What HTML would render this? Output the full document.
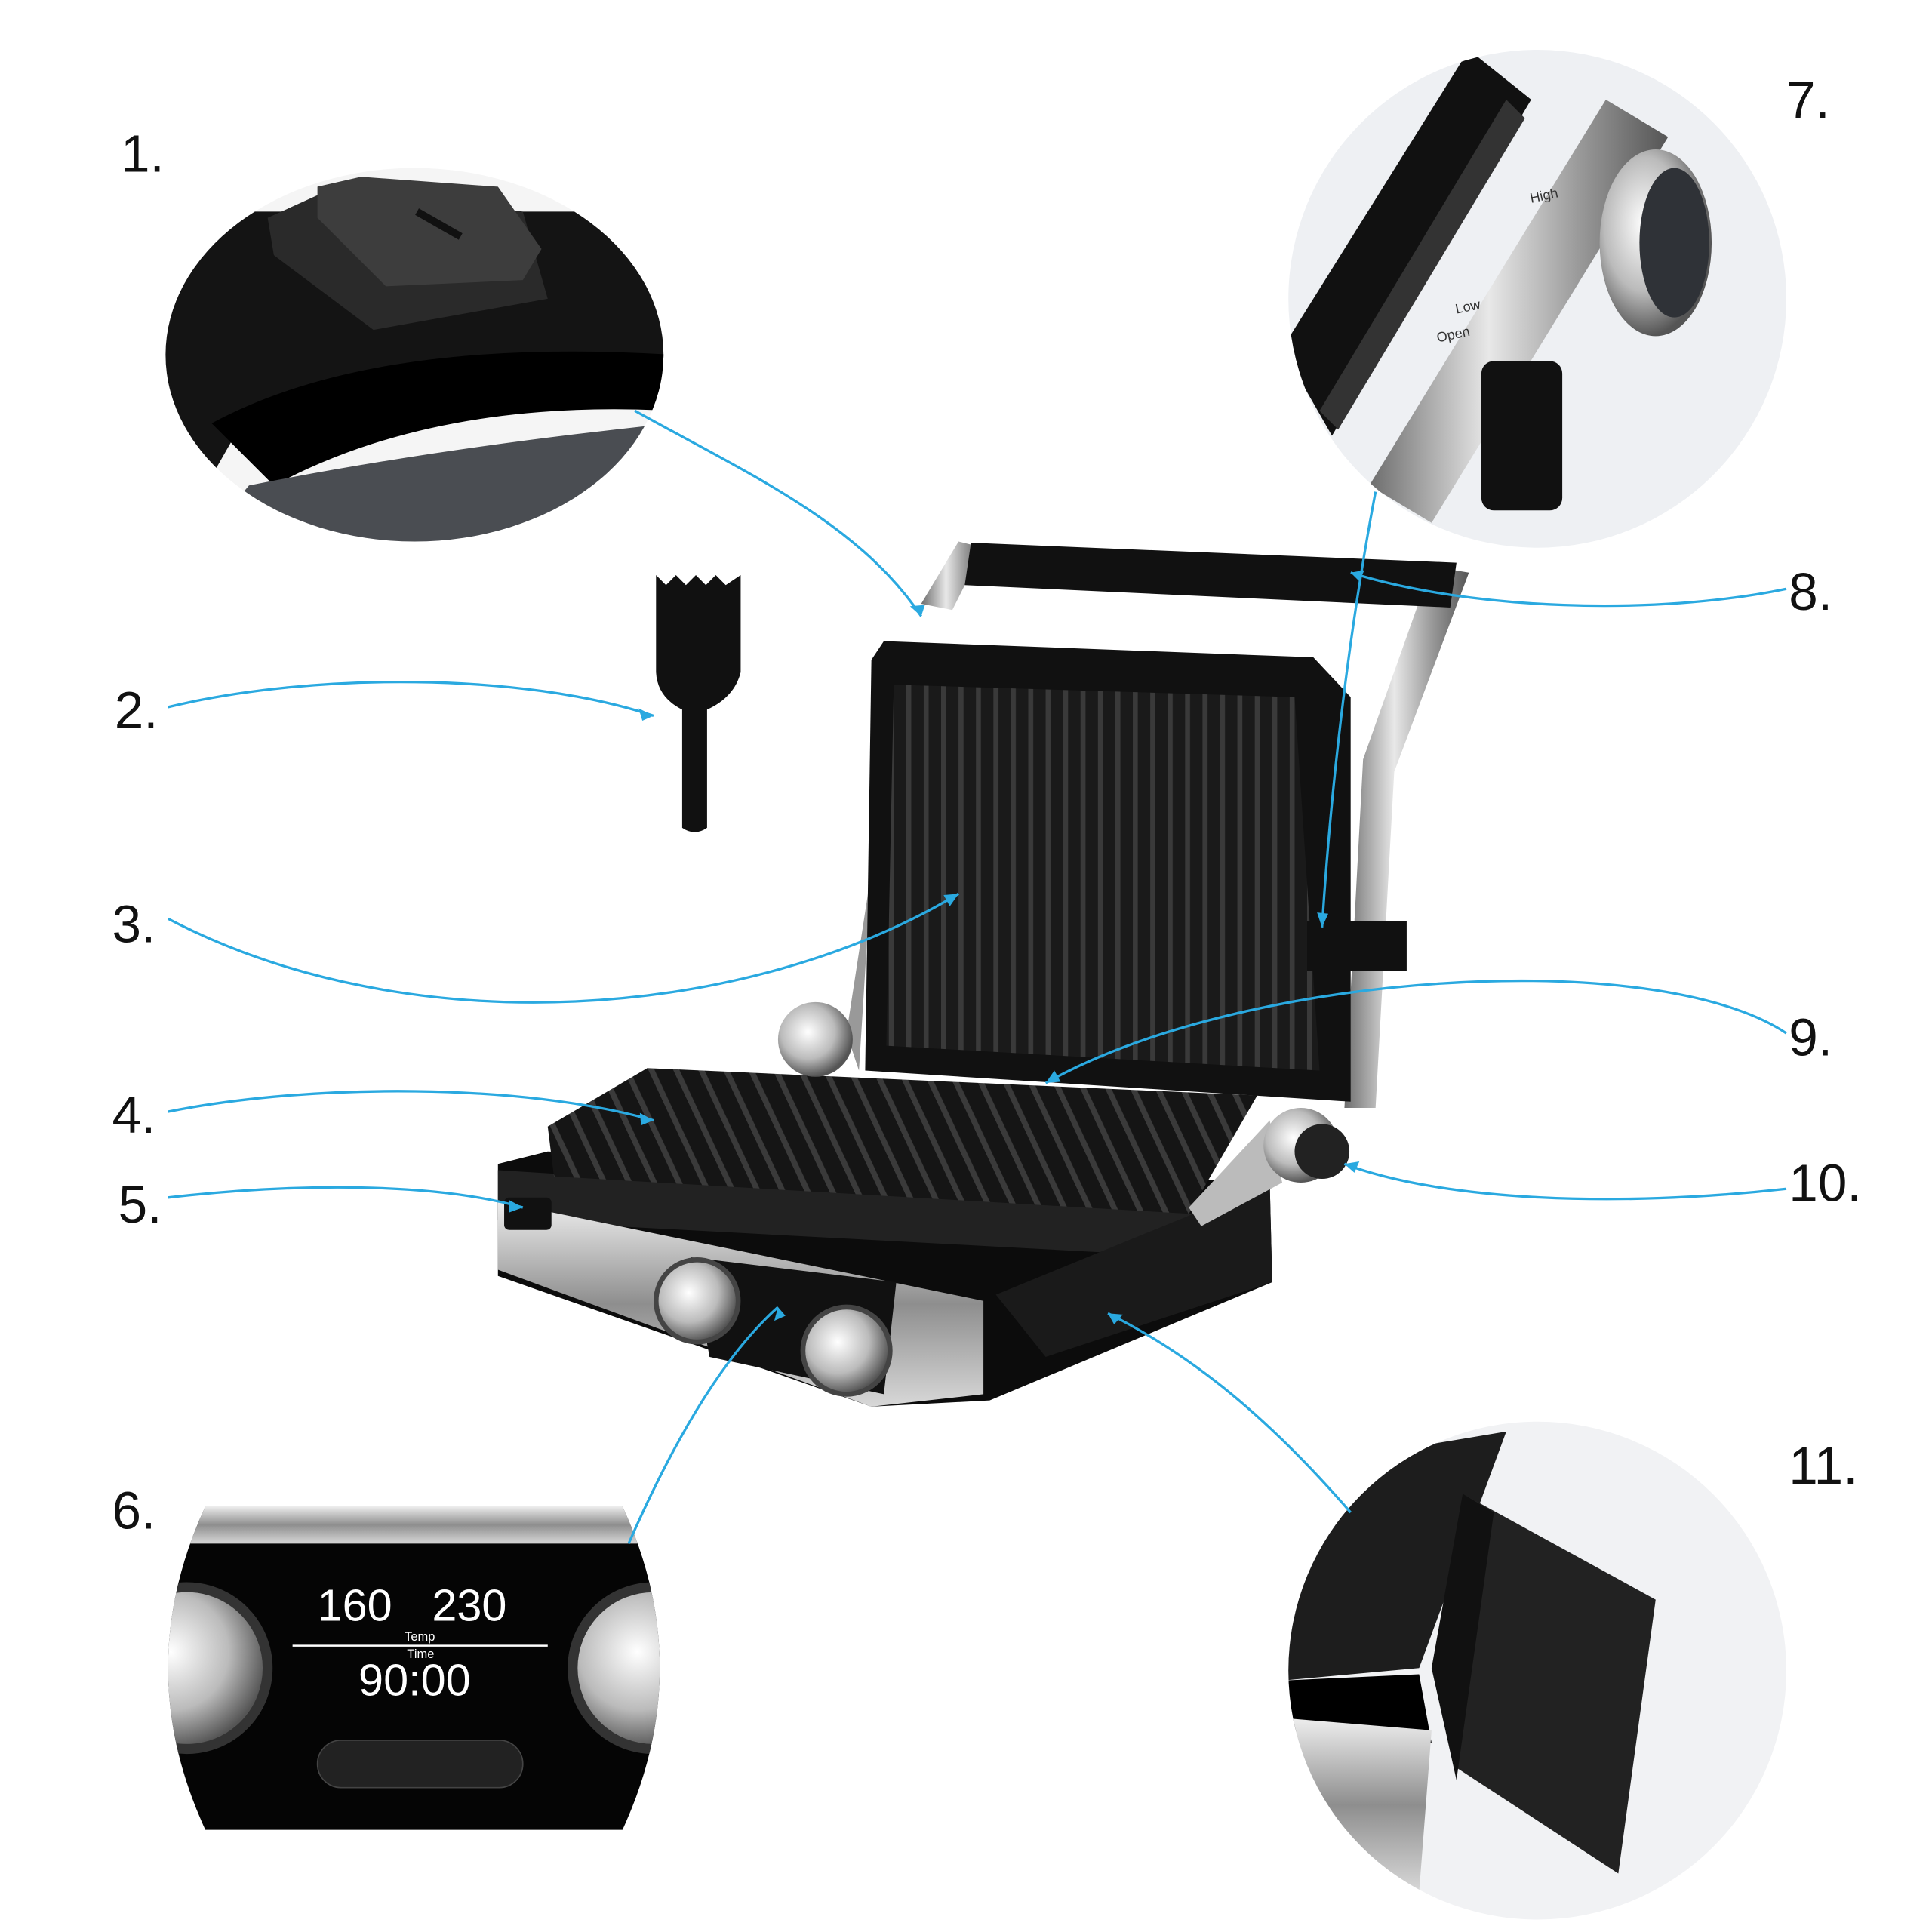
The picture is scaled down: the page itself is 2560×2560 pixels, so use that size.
<!DOCTYPE html>
<html><head><meta charset="utf-8"><style>
html,body{margin:0;padding:0;background:#fff;width:2560px;height:2560px;overflow:hidden}
svg{display:block}
text{font-family:"Liberation Sans",sans-serif}
</style></head><body>
<svg width="2560" height="2560" viewBox="0 0 1552 1552" xmlns="http://www.w3.org/2000/svg">
<defs>
<linearGradient id="steel" x1="0" y1="0" x2="1" y2="0">
<stop offset="0" stop-color="#6d6d6d"/><stop offset=".4" stop-color="#e8e8e8"/><stop offset=".7" stop-color="#9a9a9a"/><stop offset="1" stop-color="#555"/></linearGradient>
<linearGradient id="steelv" x1="0" y1="0" x2="0" y2="1">
<stop offset="0" stop-color="#eee"/><stop offset=".5" stop-color="#8e8e8e"/><stop offset="1" stop-color="#d8d8d8"/></linearGradient>
<radialGradient id="knob" cx=".4" cy=".4" r=".6"><stop offset="0" stop-color="#fff"/><stop offset=".6" stop-color="#bbb"/><stop offset="1" stop-color="#555"/></radialGradient>
<clipPath id="c1"><ellipse cx="333" cy="285" rx="200" ry="150"/></clipPath>
<clipPath id="c7"><circle cx="1235" cy="240" r="200"/></clipPath>
<clipPath id="c11"><circle cx="1235" cy="1342" r="200"/></clipPath>
<clipPath id="c6"><path d="M165 1210 L500 1210 Q560 1340 500 1470 L165 1470 Q105 1340 165 1210Z"/></clipPath>
<pattern id="ridge" width="14" height="10" patternUnits="userSpaceOnUse"><rect width="14" height="10" fill="#1a1a1a"/><rect width="4" height="10" fill="#3a3a3a"/></pattern>
<pattern id="ridgeh" width="20" height="14" patternUnits="userSpaceOnUse" patternTransform="skewX(25)"><rect width="20" height="14" fill="#151515"/><rect width="5" height="14" fill="#3a3a3a"/></pattern>
</defs>

<g clip-path="url(#c1)">
<rect x="100" y="100" width="450" height="350" fill="#f5f5f5"/>
<path d="M130 170 L540 170 L540 290 Q400 300 200 330 L160 400 L100 400Z" fill="#141414"/>
<path d="M170 340 Q300 270 540 285 L540 330 Q350 320 220 390Z" fill="#000"/>
<path d="M200 390 Q350 360 540 340 L540 450 L150 450Z" fill="#4a4d52"/>
<path d="M215 175 L270 150 L420 170 L440 240 L300 265 L220 205Z" fill="#2a2a2a"/>
<path d="M255 150 L290 142 L400 150 L435 200 L420 225 L310 230 L255 175Z" fill="#3d3d3d"/>
<line x1="335" y1="170" x2="370" y2="190" stroke="#111" stroke-width="6"/>
</g>

<g clip-path="url(#c7)">
<rect x="1030" y="30" width="420" height="420" fill="#eef0f3"/>
<path d="M1030 280 L1180 40 L1230 80 L1070 350Z" fill="#111"/>
<path d="M1060 330 L1210 80 L1225 95 L1075 345Z" fill="#333"/>
<path d="M1100 390 L1290 80 L1340 110 L1150 420Z" fill="url(#steel)"/>
<ellipse cx="1330" cy="195" rx="45" ry="75" fill="url(#knob)"/>
<ellipse cx="1345" cy="195" rx="28" ry="60" fill="#2f3237"/>
<rect x="1190" y="290" width="65" height="120" rx="10" fill="#111"/>
<text x="1230" y="163" font-size="11" fill="#333" transform="rotate(-12 1230 163)">High</text>
<text x="1170" y="252" font-size="11" fill="#333" transform="rotate(-12 1170 252)">Low</text>
<text x="1155" y="275" font-size="11" fill="#333" transform="rotate(-12 1155 275)">Open</text>
</g>

<g clip-path="url(#c11)">
<rect x="1030" y="1140" width="420" height="420" fill="#f1f2f4"/>
<path d="M1030 1290 L1090 1170 L1210 1150 L1140 1340 L1030 1350Z" fill="#1d1d1d"/>
<path d="M1030 1350 L1140 1345 L1150 1400 L1030 1390Z" fill="#000"/>
<path d="M1030 1380 L1150 1390 L1140 1520 L1030 1500Z" fill="url(#steelv)"/>
<path d="M1175 1200 L1330 1285 L1300 1505 L1170 1420Z" fill="#222"/>
<path d="M1150 1340 L1175 1200 L1200 1215 L1170 1430Z" fill="#111"/>
</g>

<g clip-path="url(#c6)">
<rect x="100" y="1205" width="470" height="270" fill="#050505"/>
<rect x="100" y="1210" width="470" height="30" fill="url(#steelv)"/>
<circle cx="150" cy="1340" r="65" fill="url(#knob)" stroke="#333" stroke-width="8"/>
<circle cx="525" cy="1340" r="65" fill="url(#knob)" stroke="#333" stroke-width="8"/>
<text x="255" y="1302" font-size="36" fill="#fff" font-family="Liberation Mono,monospace">160</text>
<text x="347" y="1302" font-size="36" fill="#fff" font-family="Liberation Mono,monospace">230</text>
<text x="325" y="1318" font-size="10" fill="#fff">Temp</text>
<line x1="235" y1="1322" x2="440" y2="1322" stroke="#fff" stroke-width="1.5"/>
<text x="327" y="1332" font-size="10" fill="#fff">Time</text>
<text x="288" y="1362" font-size="36" fill="#fff" font-family="Liberation Mono,monospace">90:00</text>
<rect x="255" y="1398" width="165" height="38" rx="19" fill="#222" stroke="#444"/>
</g>

<path d="M527 462 L535 470 L543 462 L551 470 L559 462 L567 470 L575 462 L583 470 L595 462 L595 540 Q590 560 568 570 L568 665 Q558 672 548 665 L548 570 Q528 560 527 540Z" fill="#111"/>

<path d="M740 485 L770 435 L790 440 L765 490Z" fill="url(#steel)"/>
<path d="M1150 455 L1180 460 L1120 620 L1105 890 L1080 890 L1095 610Z" fill="url(#steel)"/>
<path d="M680 830 L700 700 L690 860Z" fill="#999"/>
<path d="M780 436 L1170 452 L1165 488 L775 470Z" fill="#111"/>
<path d="M710 515 L1055 528 L1085 560 L1085 885 L695 860 L700 530Z" fill="#111"/>
<path d="M718 550 L1040 560 L1060 860 L712 840Z" fill="url(#ridge)"/>
<rect x="1050" y="740" width="80" height="40" fill="#111"/>
<path d="M400 935 L440 925 L1020 950 L1022 1030 L795 1125 L700 1130 L400 1025Z" fill="#0c0c0c"/>
<path d="M400 940 L960 975 L960 1010 L400 980Z" fill="#222"/>
<path d="M400 965 L790 1045 L790 1120 L700 1130 L400 1020Z" fill="url(#steelv)"/>
<path d="M555 1010 L720 1030 L710 1120 L570 1090Z" fill="#111"/>
<rect x="405" y="962" width="38" height="26" rx="4" fill="#111"/>
<circle cx="560" cy="1045" r="33" fill="url(#knob)" stroke="#444" stroke-width="4"/>
<circle cx="680" cy="1085" r="35" fill="url(#knob)" stroke="#444" stroke-width="4"/>
<path d="M800 1040 L1020 950 L1022 1030 L840 1090Z" fill="#1a1a1a"/>
<path d="M440 905 L520 858 L1010 880 L955 975 L445 945Z" fill="url(#ridgeh)"/>
<path d="M955 970 L1020 900 L1030 950 L965 985Z" fill="#bbb"/>
<circle cx="655" cy="835" r="30" fill="url(#knob)"/>
<circle cx="1045" cy="920" r="30" fill="url(#knob)"/>
<circle cx="1062" cy="925" r="22" fill="#222"/>

<g fill="none" stroke="#2aa9e0" stroke-width="2">
<path d="M510 330 C600 380 690 420 740 495"/>
<path d="M135 568 C250 540 420 540 525 575"/>
<path d="M135 738 C330 840 600 820 770 718"/>
<path d="M135 893 C250 870 420 870 525 900"/>
<path d="M135 962 C240 950 350 950 420 970"/>
<path d="M505 1240 C540 1160 580 1090 625 1050"/>
<path d="M1105 395 C1085 500 1070 620 1062 745"/>
<path d="M1435 473 C1330 495 1180 490 1085 460"/>
<path d="M1435 830 C1330 760 1000 780 840 870"/>
<path d="M1435 955 C1300 970 1160 965 1080 935"/>
<path d="M1085 1215 C1020 1140 960 1090 890 1055"/>
</g>
<g fill="#2aa9e0">
<path d="M740 495 l-9 -8 l12 -1z"/><path d="M525 575 l-12 -6 l3 10z"/><path d="M770 718 l-12 1 l5 9z"/>
<path d="M525 900 l-11 -6 l1 10z"/><path d="M420 970 l-11 -6 l0 10z"/><path d="M625 1050 l-3 11 l9 -4z"/>
<path d="M1062 745 l-4 -12 l9 1z"/><path d="M1085 460 l11 -2 l-4 9z"/><path d="M840 870 l12 -1 l-5 -9z"/>
<path d="M1080 935 l12 -2 l-4 9z"/><path d="M890 1055 l12 1 l-7 8z"/>
</g>

<g font-size="42" fill="#111">
<text x="97" y="138">1.</text>
<text x="92" y="585">2.</text>
<text x="90" y="757">3.</text>
<text x="90" y="910">4.</text>
<text x="95" y="982">5.</text>
<text x="90" y="1228">6.</text>
<text x="1435" y="95">7.</text>
<text x="1437" y="490">8.</text>
<text x="1437" y="848">9.</text>
<text x="1437" y="965">10.</text>
<text x="1437" y="1192">11.</text>
</g>
</svg>
</body></html>
